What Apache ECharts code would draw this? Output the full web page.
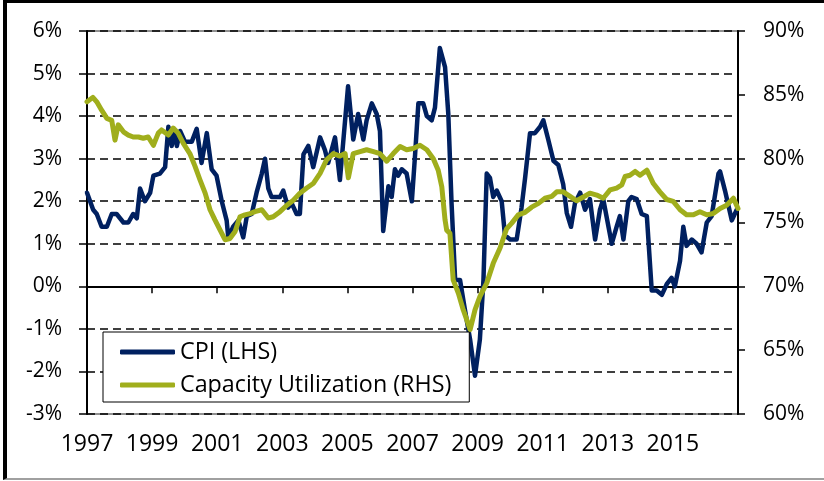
<!DOCTYPE html>
<html>
<head>
<meta charset="utf-8">
<script src="https://cdn.jsdelivr.net/npm/echarts@6/dist/echarts.min.js"></script>
<style>
  html, body { margin: 0; padding: 0; background: #fff; }
  #chart { width: 824px; height: 481px; position: relative; }
  #frame {
    position: absolute; left: 3px; top: 0; width: 900px; height: 475px;
    border-left: 4px solid #000; border-top: 3px solid #000; border-bottom: 2px solid #a0a0a0;
    pointer-events: none;
  }
</style>
</head>
<body>
<div id="chart"></div>
<div id="frame"></div>
<script>
// CPI, % y/y (left axis)
const cpiYears = [
  1997.00, 1997.19, 1997.30, 1997.45, 1997.61, 1997.76, 1997.91, 1998.12, 1998.27, 1998.42,
  1998.53, 1998.63, 1998.78, 1998.94, 1999.04, 1999.24, 1999.40, 1999.50, 1999.60, 1999.70,
  1999.76, 1999.86, 2000.01, 2000.22, 2000.37, 2000.52, 2000.68, 2000.83, 2000.98, 2001.14,
  2001.29, 2001.34, 2001.49, 2001.65, 2001.80, 2001.91, 2002.06, 2002.21, 2002.37, 2002.47,
  2002.57, 2002.67, 2002.93, 2003.03, 2003.18, 2003.29, 2003.44, 2003.54, 2003.65, 2003.80,
  2003.95, 2004.16, 2004.31, 2004.41, 2004.62, 2004.77, 2005.02, 2005.18, 2005.33, 2005.49,
  2005.59, 2005.75, 2005.90, 2006.00, 2006.10, 2006.26, 2006.36, 2006.46, 2006.56, 2006.67,
  2006.82, 2006.98, 2007.08, 2007.18, 2007.33, 2007.44, 2007.59, 2007.69, 2007.84, 2008.00,
  2008.10, 2008.20, 2008.31, 2008.46, 2008.61, 2008.77, 2008.92, 2009.07, 2009.18, 2009.28,
  2009.38, 2009.48, 2009.59, 2009.74, 2009.84, 2010.00, 2010.20, 2010.35, 2010.46, 2010.61,
  2010.76, 2010.92, 2011.02, 2011.17, 2011.33, 2011.48, 2011.63, 2011.74, 2011.87, 2011.99,
  2012.15, 2012.30, 2012.45, 2012.61, 2012.76, 2012.86, 2013.12, 2013.27, 2013.37, 2013.48,
  2013.63, 2013.73, 2013.89, 2014.04, 2014.20, 2014.35, 2014.50, 2014.66, 2014.81, 2014.96,
  2015.06, 2015.22, 2015.32, 2015.42, 2015.58, 2015.73, 2015.88, 2016.04, 2016.19, 2016.40,
  2016.45, 2016.60, 2016.81, 2016.96
];
const cpiValues = [
  2.2, 1.8, 1.7, 1.4, 1.4, 1.7, 1.7, 1.5, 1.5, 1.7,
  1.6, 2.3, 2.0, 2.2, 2.6, 2.65, 2.8, 3.75, 3.3, 3.65,
  3.3, 3.65, 3.4, 3.4, 3.7, 2.9, 3.6, 2.75, 2.6, 2.0,
  1.55, 1.15, 1.4, 1.55, 1.15, 1.65, 1.7, 2.2, 2.65, 3.0,
  2.3, 2.1, 2.1, 2.25, 1.85, 1.95, 1.7, 1.7, 3.1, 3.3,
  2.8, 3.5, 3.2, 2.9, 3.5, 2.5, 4.7, 3.45, 4.05, 3.45,
  3.9, 4.3, 4.05, 3.65, 1.3, 2.35, 2.1, 2.75, 2.6, 2.75,
  2.65, 2.0, 3.1, 4.3, 4.3, 4.0, 3.9, 4.2, 5.6, 5.15,
  4.05, 1.95, 0.15, 0.15, -0.55, -1.25, -2.1, -1.25, 0.15, 2.65,
  2.55, 2.1, 2.25, 2.0, 1.2, 1.1, 1.1, 1.85, 2.55, 3.6,
  3.6, 3.75, 3.9, 3.45, 2.95, 2.85, 2.4, 1.72, 1.4, 1.95,
  2.2, 1.8, 2.05, 1.1, 1.8, 2.05, 1.0, 1.4, 1.65, 1.1,
  2.0, 2.1, 2.05, 1.7, 1.65, -0.1, -0.1, -0.2, 0.05, 0.2,
  0.0, 0.6, 1.4, 0.95, 1.1, 1.0, 0.8, 1.5, 1.65, 2.65,
  2.7, 2.25, 1.55, 1.8
];

// Capacity utilization, % (right axis)
const cuYears = [
  1997.00, 1997.18, 1997.30, 1997.45, 1997.61, 1997.76, 1997.86, 1997.96, 1998.12, 1998.27,
  1998.42, 1998.58, 1998.73, 1998.88, 1999.04, 1999.19, 1999.29, 1999.50, 1999.65, 1999.80,
  1999.96, 2000.16, 2000.32, 2000.47, 2000.63, 2000.78, 2000.93, 2001.09, 2001.24, 2001.39,
  2001.55, 2001.70, 2001.85, 2002.01, 2002.16, 2002.37, 2002.57, 2002.72, 2002.93, 2003.14,
  2003.34, 2003.54, 2003.75, 2003.95, 2004.16, 2004.36, 2004.57, 2004.77, 2004.93, 2005.03,
  2005.18, 2005.39, 2005.59, 2005.80, 2006.00, 2006.21, 2006.41, 2006.62, 2006.82, 2007.02,
  2007.23, 2007.44, 2007.64, 2007.79, 2007.90, 2008.00, 2008.05, 2008.15, 2008.25, 2008.41,
  2008.56, 2008.67, 2008.77, 2008.92, 2009.07, 2009.28, 2009.48, 2009.69, 2009.89, 2010.05,
  2010.25, 2010.46, 2010.66, 2010.87, 2011.07, 2011.28, 2011.43, 2011.63, 2011.84, 2012.04,
  2012.25, 2012.45, 2012.66, 2012.86, 2013.07, 2013.27, 2013.43, 2013.53, 2013.68, 2013.84,
  2013.99, 2014.20, 2014.40, 2014.60, 2014.81, 2015.01, 2015.22, 2015.42, 2015.63, 2015.83,
  2016.04, 2016.24, 2016.45, 2016.65, 2016.86, 2017.00
];
const cuValues = [
  84.45, 84.8, 84.45, 83.8, 83.15, 83.0, 81.45, 82.65, 82.1, 81.85,
  81.7, 81.7, 81.6, 81.7, 81.05, 82.0, 82.25, 81.85, 82.4, 82.0,
  81.2, 80.4, 79.4, 78.35, 77.3, 76.0, 75.2, 74.4, 73.65, 73.75,
  74.3, 75.45, 75.6, 75.7, 75.85, 76.0, 75.35, 75.45, 75.85, 76.35,
  76.75, 77.3, 77.7, 78.05, 78.85, 79.9, 80.4, 80.2, 80.4, 78.5,
  80.4, 80.55, 80.7, 80.55, 80.4, 79.8, 80.4, 80.95, 80.7, 80.8,
  81.05, 80.7, 80.0, 79.1, 77.8, 75.2, 74.4, 74.15, 70.5, 69.45,
  68.15, 67.35, 66.6, 68.15, 69.2, 70.25, 71.8, 73.0, 74.5, 74.95,
  75.6, 75.8, 76.2, 76.5, 76.9, 77.05, 77.4, 77.4, 77.05, 76.7,
  77.0, 77.3, 77.15, 76.9, 77.55, 77.7, 77.95, 78.6, 78.7, 79.0,
  78.7, 79.1, 78.05, 77.4, 76.8, 76.65, 76.0, 75.6, 75.6, 75.85,
  75.6, 75.7, 76.1, 76.35, 76.9, 76.1
];

const seriesNames = ['CPI (LHS)', 'Capacity Utilization (RHS)'];
const fontFamily = '"Open Sans", Lato, sans-serif';

const chart = echarts.init(document.getElementById('chart'));

const pairs = (xs, ys) => xs.map((x, i) => [x, ys[i]]);

chart.setOption({
  animation: false,
  backgroundColor: '#fff',
  textStyle: { fontFamily: fontFamily, color: '#000' },
  grid: {
    left: 87, right: 86, top: 31, bottom: 67,
    show: true, borderColor: '#222', borderWidth: 1, backgroundColor: 'transparent'
  },
  legend: {
    data: seriesNames,
    orient: 'vertical',
    left: 103,
    top: 332,
    padding: [7, 18, 4, 17],
    itemGap: 7,
    itemWidth: 55,
    itemHeight: 5,
    icon: 'roundRect',
    backgroundColor: '#fff',
    borderColor: '#000',
    borderWidth: 1,
    textStyle: { fontSize: 23.3, lineHeight: 26, color: '#000', fontFamily: fontFamily }
  },
  xAxis: [
    {
      // line through 0% with tick marks
      type: 'value',
      min: 1997, max: 2017, interval: 2,
      axisLine: { onZero: true, onZeroAxisIndex: 0, lineStyle: { color: '#000', width: 2 } },
      axisTick: { show: true, length: 7, lineStyle: { color: '#000', width: 1.5 } },
      axisLabel: { show: false },
      splitLine: { show: false }
    },
    {
      // year labels along the bottom
      type: 'value',
      position: 'bottom',
      min: 1997, max: 2017, interval: 2,
      axisLine: { show: false, onZero: false },
      axisTick: { show: false },
      axisLabel: {
        fontSize: 23, color: '#000', margin: 19,
        formatter: v => (v === 2017 ? '' : String(v))
      },
      splitLine: { show: false }
    }
  ],
  yAxis: [
    {
      type: 'value',
      min: -3, max: 6, interval: 1,
      axisLine: { show: true, lineStyle: { color: '#000', width: 2 } },
      axisTick: { show: true, length: 8, lineStyle: { color: '#000', width: 1.5 } },
      axisLabel: { fontSize: 21, color: '#000', margin: 25, formatter: '{value}%' },
      splitLine: { show: true, lineStyle: { color: '#000', width: 1.5, type: [8, 5] } }
    },
    {
      type: 'value',
      position: 'right',
      min: 60, max: 90, interval: 5,
      axisLine: { show: true, lineStyle: { color: '#000', width: 2 } },
      axisTick: { show: true, length: 7, lineStyle: { color: '#000', width: 1.5 } },
      axisLabel: { fontSize: 21, color: '#000', margin: 25, formatter: '{value}%' },
      splitLine: { show: false }
    }
  ],
  series: [
    {
      name: seriesNames[0],
      type: 'line',
      xAxisIndex: 0,
      yAxisIndex: 0,
      data: pairs(cpiYears, cpiValues),
      showSymbol: false,
      lineStyle: { color: '#002060', width: 4.5, join: 'round', cap: 'round' },
      itemStyle: { color: '#002060' }
    },
    {
      name: seriesNames[1],
      type: 'line',
      xAxisIndex: 0,
      yAxisIndex: 1,
      data: pairs(cuYears, cuValues),
      showSymbol: false,
      lineStyle: { color: '#a0ae1c', width: 5, join: 'round', cap: 'round' },
      itemStyle: { color: '#a0ae1c' }
    }
  ]
});
</script>
</body>
</html>
